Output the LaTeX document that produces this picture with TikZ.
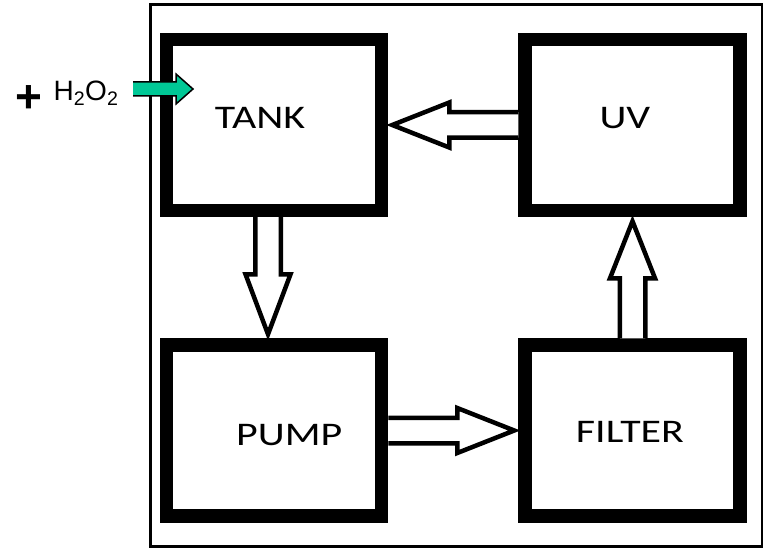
\documentclass[tikz,border=0pt]{standalone}
\usepackage{fontspec}
\newfontfamily\labelfont{Carlito}
\newfontfamily\chemfont{Liberation Sans}
\usepackage{tikz}
\usetikzlibrary{positioning, calc}
\definecolor{inletgreen}{RGB}{0,200,150}

% hollow block arrow: [style]{from}{to}{shaft half width}{head half width}{head length}
\newcommand{\blockarrow}[6][]{%
    \coordinate (hb) at ($(#3)!#6!(#2)$);
    \draw[#1] ($(#2)!#4!90:(#3)$) -- ($(hb)!#4!90:(#3)$) -- ($(hb)!#5!90:(#3)$) -- (#3)
        -- ($(hb)!#5!-90:(#3)$) -- ($(hb)!#4!-90:(#3)$) -- ($(#2)!#4!-90:(#3)$);
}

\begin{document}
\begin{tikzpicture}[
    x=1pt, y=-1pt,
    unitbox/.style={draw, line width=13.5pt, minimum width=215pt, minimum height=171pt, inner sep=0pt},
    lbl/.style={font=\labelfont\fontsize{33}{40}\selectfont, xscale=1.27},
    hollow/.style={draw, fill=white, line width=4.5pt, line join=miter},
    inlet/.style={draw, fill=inletgreen, line width=1.5pt, line join=miter},
]
    \useasboundingbox (0,0) rectangle (763,548);
    \draw[line width=3pt] (150,5) rectangle (762,546);

    % process units
    \node[unitbox, label={[lbl, xshift=-11pt, yshift=7pt]center:TANK}] (tank) at (274,125) {};
    \node[unitbox, right=130pt of tank, label={[lbl, xshift=-6pt, yshift=7pt]center:UV}] (uv) {};
    \node[unitbox, below=121pt of tank, label={[lbl, xshift=12pt, yshift=-5pt]center:PUMP}] (pump) {};
    \node[unitbox, below=121pt of uv, label={[lbl, xshift=-2pt, yshift=-1pt]center:FILTER}] (filter) {};

    % flow loop
    \coordinate (tankIn) at ([xshift=4pt]tank.east);
    \coordinate (tankOut) at ([xshift=-6pt]tank.south);
    \coordinate (pumpIn) at ([xshift=-6pt, yshift=4pt]pump.north);
    \coordinate (filterIn) at ([xshift=-4pt]filter.west);
    \coordinate (filterOut) at (filter.north);
    \coordinate (uvIn) at ([yshift=-4pt]uv.south);
    \blockarrow[hollow]{uv.west}{tankIn}{12.75pt}{22.5pt}{57pt}
    \blockarrow[hollow]{tankOut}{pumpIn}{12.75pt}{22.5pt}{60pt}
    \blockarrow[hollow]{pump.east}{filterIn}{12.75pt}{22.5pt}{57pt}
    \blockarrow[hollow]{filterOut}{uvIn}{12.75pt}{22.5pt}{57pt}

    % peroxide dosing
    \node[font=\chemfont\fontsize{28}{32}\selectfont, inner sep=0pt] (h2o2) at (86,93) {H\textsubscript{2}O\textsubscript{2}};
    \node[font=\chemfont\bfseries\fontsize{46}{50}\selectfont, inner sep=0pt, left=11pt of h2o2, yshift=-6pt] (plus) {+};
    \coordinate (dose) at (133,89);
    \coordinate (doseTip) at (193,89);
    \blockarrow[inlet]{dose}{doseTip}{7pt}{15pt}{17pt}
\end{tikzpicture}
\end{document}
